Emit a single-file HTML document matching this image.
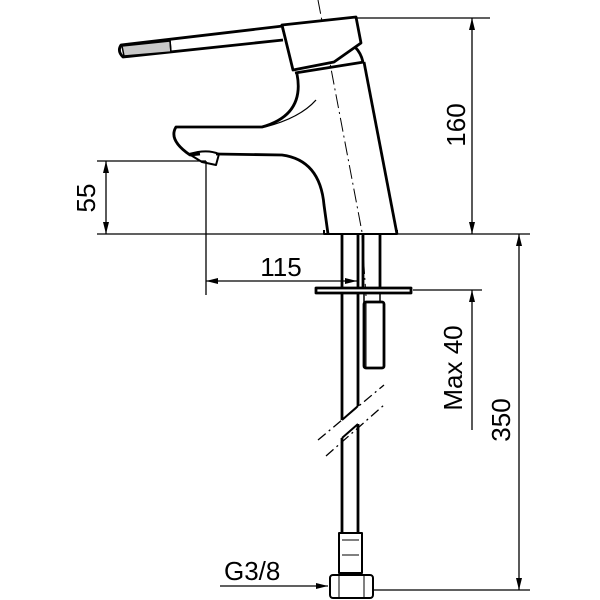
<!DOCTYPE html>
<html><head><style>html,body{margin:0;padding:0;background:#fff}svg{display:block}</style></head><body>
<svg width="600" height="600" viewBox="0 0 600 600" xmlns="http://www.w3.org/2000/svg" font-family="Liberation Sans, sans-serif">
<defs>
<marker id="a" viewBox="0 0 12 6" refX="12" refY="3" markerWidth="12" markerHeight="6" markerUnits="userSpaceOnUse" orient="auto-start-reverse"><path d="M0,0L12,3L0,6z" fill="#000"/></marker>
</defs>
<g stroke="#000" stroke-width="1.3" fill="none">
<line x1="97" y1="234" x2="530" y2="234"/>
<line x1="97" y1="161" x2="206" y2="161"/>
<line x1="356" y1="18" x2="490" y2="18"/>
<line x1="413" y1="290" x2="482" y2="290"/>
<line x1="373" y1="590" x2="530" y2="590"/>
<line x1="206" y1="161" x2="206" y2="295"/>
<line x1="106" y1="161" x2="106" y2="234" marker-start="url(#a)" marker-end="url(#a)"/>
<line x1="472" y1="18" x2="472" y2="234" marker-start="url(#a)" marker-end="url(#a)"/>
<line x1="472" y1="430" x2="472" y2="290" marker-end="url(#a)"/>
<line x1="519" y1="234" x2="519" y2="590" marker-start="url(#a)" marker-end="url(#a)"/>
<line x1="206" y1="281" x2="357" y2="281" marker-start="url(#a)" marker-end="url(#a)"/>
<line x1="220" y1="586" x2="328" y2="586" marker-end="url(#a)"/>
<line x1="318" y1="0" x2="362" y2="232" stroke-dasharray="14,4,2,4" stroke-width="1"/>
<line x1="362" y1="236" x2="366" y2="296" stroke-dasharray="14,4,2,4" stroke-width="1"/>
</g>
<g stroke="#000" stroke-width="2.8" fill="none" stroke-linejoin="round">
<path d="M283,26 L121,45 Q117,51 123,57 L283,40"/>
<path d="M122,46 L170,41 L171,52 L124,56 Z" fill="#c8c8c8" stroke-width="1.5"/>
<line x1="170" y1="40" x2="171" y2="53" stroke-width="1.5"/>
<path d="M282,25 L356,17 L361,43 L334,62 L293,70 Z" fill="#fff"/>
<line x1="282" y1="28" x2="285" y2="38" stroke-width="1.5"/>
<path d="M355,47 Q361,53 363,62" />
<line x1="295" y1="73" x2="364" y2="62"/>
<path d="M364,62 L397,234"/>
<path d="M297,74 Q305,115 262,127 L176,127 Q168,140 190,155 L200,154"/>
<path d="M216,154 L282,155 Q320,160 324,205 L328,234"/>
<path d="M189,154 L202,162 L216,165 L219,154 Q210,150 198,152 Z" stroke-width="2"/>
<path d="M265,127 Q300,118 316,100" stroke-width="1.3"/>
<path d="M324,230 L324,234 L397,234 L397,230" stroke-width="2"/>
<line x1="342" y1="234" x2="342" y2="420"/>
<line x1="358" y1="234" x2="358" y2="406"/>
<line x1="342" y1="420" x2="358" y2="406" stroke-width="2"/>
<line x1="342" y1="438" x2="358" y2="424" stroke-width="2"/>
<line x1="342" y1="438" x2="342" y2="533"/>
<line x1="358" y1="424" x2="358" y2="533"/>
<line x1="363" y1="234" x2="363" y2="290"/>
<line x1="380" y1="234" x2="380" y2="290"/>
<rect x="316" y="288" width="95" height="5" fill="#fff"/>
<rect x="364" y="302" width="20" height="66" rx="2" fill="#fff"/>
<line x1="366" y1="302" x2="366" y2="368" stroke-width="1"/>
<line x1="364" y1="293" x2="364" y2="302" stroke-width="1.5"/>
<line x1="380" y1="293" x2="380" y2="302" stroke-width="1.5"/>
<rect x="339" y="533" width="23" height="40" stroke-width="2"/>
<line x1="342" y1="540" x2="359" y2="540" stroke-width="1"/>
<line x1="342" y1="555" x2="359" y2="555" stroke-width="1"/>
<rect x="330" y="575" width="43" height="23" rx="3" fill="#fff" stroke-width="2"/>
<line x1="339" y1="575" x2="339" y2="598" stroke-width="1"/>
<line x1="364" y1="575" x2="364" y2="598" stroke-width="1"/>
</g>
<g stroke="#000" stroke-width="1.3" stroke-dasharray="10,4,2,4">
<line x1="318" y1="440" x2="384" y2="385"/>
<line x1="326" y1="456" x2="384" y2="405"/>
</g>
<g font-size="26" fill="#000">
<text x="281" y="276" text-anchor="middle">115</text>
<text x="224" y="580">G3/8</text>
<text transform="translate(95,198) rotate(-90)" text-anchor="middle">55</text>
<text transform="translate(465,125) rotate(-90)" text-anchor="middle">160</text>
<text transform="translate(462,368) rotate(-90)" text-anchor="middle">Max 40</text>
<text transform="translate(510,420) rotate(-90)" text-anchor="middle">350</text>
</g>
</svg>
</body></html>
